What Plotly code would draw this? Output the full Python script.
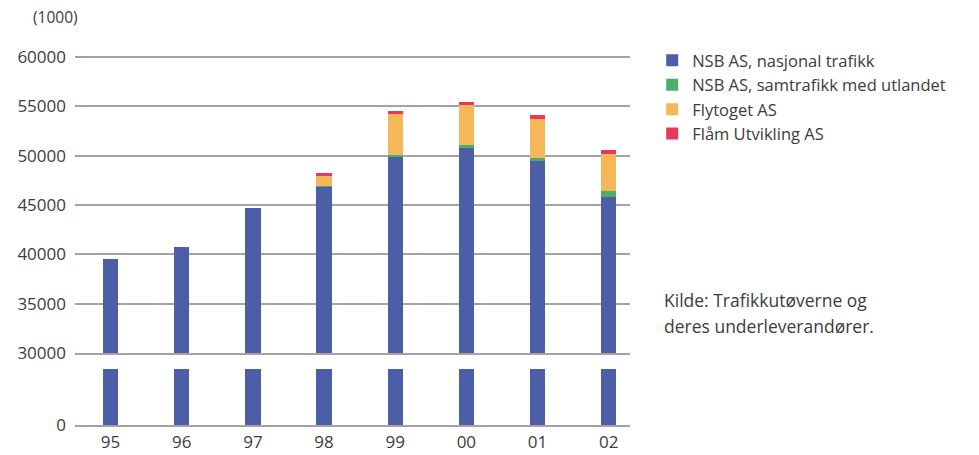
import plotly.graph_objects as go
from plotly.subplots import make_subplots

years = ["95", "96", "97", "98", "99", "00", "01", "02"]
nsb_nasjonal = [39550, 40700, 44650, 46850, 49950, 50770, 49450, 45800]
nsb_utland = [0, 0, 0, 120, 80, 270, 330, 600]
flytoget = [0, 0, 0, 950, 4150, 4100, 3950, 3750]
flaam = [0, 0, 0, 330, 330, 330, 400, 440]

series_names = ["NSB AS, nasjonal trafikk", "NSB AS, samtrafikk med utlandet",
                "Flytoget AS", "Flåm Utvikling AS"]
series_values = [nsb_nasjonal, nsb_utland, flytoget, flaam]
colors = ["#4c5ea8", "#4cae68", "#f4b75a", "#e6395b"]

upper_ticks = [30000, 35000, 40000, 45000, 50000, 55000, 60000]

font_family = "Open Sans"
text_color = "#3c3c3c"
grid_color = "#a3a3a3"

fig = make_subplots(rows=2, cols=1, shared_xaxes=True, vertical_spacing=0.0,
                    row_heights=[0.8, 0.2])

for name, vals, col in zip(series_names, series_values, colors):
    fig.add_trace(go.Bar(x=years, y=vals, name=name, marker_color=col,
                         marker_line_width=0, width=0.215), row=1, col=1)

# lower (broken-axis) panel: only the base of the blue bars
fig.add_trace(go.Bar(x=years, y=nsb_nasjonal, marker_color=colors[0],
                     marker_line_width=0, width=0.215, showlegend=False),
              row=2, col=1)

H = 455
top_px, bot_px = 50, 425
plot_h = bot_px - top_px

def frac(px):
    return (bot_px - px) / plot_h

fig.update_layout(
    width=979, height=455,
    margin=dict(l=75, r=349, t=top_px, b=H - bot_px, autoexpand=False),
    barmode="stack",
    plot_bgcolor="white", paper_bgcolor="white",
    font=dict(family=font_family, color=text_color, size=17),
    showlegend=True,
    legend=dict(x=1.04, xanchor="left", xref="paper", yref="paper",
                y=frac(43), yanchor="top",
                traceorder="normal", font=dict(size=16.5, color=text_color),
                bgcolor="rgba(0,0,0,0)", borderwidth=0),
)

# upper panel: 30000 at y=353, 60000 at y=57 (top padded so its gridline shows)
u_lo, u_hi = 30000, 60600
px_per_unit = (353 - 57) / 30000.0
u_top_px = 57 - (u_hi - 60000) * px_per_unit
# lower panel: 0 at y=425, bars clipped at y=369
l_lo = 0
l_hi = (425 - 369) * 5000 / 49.3

fig.update_layout(
    xaxis=dict(domain=[0, 1], range=[-0.5, 7.3], showgrid=False,
               showline=True, linecolor=grid_color, linewidth=1.6,
               showticklabels=False, ticks="", automargin=False),
    xaxis2=dict(domain=[0, 1], range=[-0.5, 7.3], showgrid=False,
                showline=True, linecolor=grid_color, linewidth=1.6,
                ticks="", tickfont=dict(size=17),
                ticklabelstandoff=1, automargin=False),
    yaxis=dict(domain=[frac(353), frac(u_top_px)], range=[u_lo, u_hi],
               tickvals=upper_ticks, ticktext=[str(v) for v in upper_ticks],
               showgrid=True, gridcolor=grid_color, gridwidth=1.6,
               zeroline=False, showline=False, ticks="", automargin=False,
               ticklabelstandoff=8, tickfont=dict(size=17)),
    yaxis2=dict(domain=[0, frac(369)], range=[l_lo, l_hi],
                tickvals=[0], ticktext=["0"],
                showgrid=False, zeroline=False, showline=False, ticks="",
                automargin=False, ticklabelstandoff=8, tickfont=dict(size=17)),
)

fig.add_annotation(text="(1000)", xref="paper", yref="paper",
                   x=-0.036, y=frac(17), xanchor="center", yanchor="middle",
                   showarrow=False, font=dict(size=15.5, color=text_color))

fig.add_annotation(text="Kilde: Trafikkutøverne og", xref="paper", yref="paper",
                   x=1.0, xshift=32, y=frac(300), xanchor="left", yanchor="middle",
                   showarrow=False, font=dict(size=17.5, color=text_color))
fig.add_annotation(text="deres underleverandører.", xref="paper", yref="paper",
                   x=1.0, xshift=32, y=frac(326), xanchor="left", yanchor="middle",
                   showarrow=False, font=dict(size=17.5, color=text_color))

fig.write_html("out.html")
